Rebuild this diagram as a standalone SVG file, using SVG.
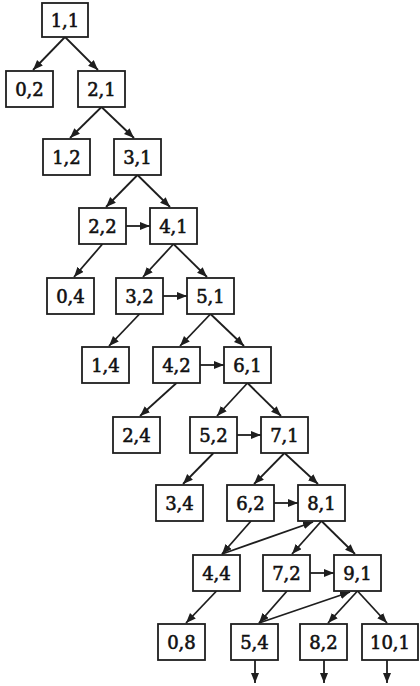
<svg xmlns="http://www.w3.org/2000/svg" width="420" height="686" viewBox="0 0 420 686">
<defs>
<marker id="ah" markerUnits="userSpaceOnUse" markerWidth="11" markerHeight="9" refX="10" refY="4" orient="auto">
<path d="M0,0 L10,4 L0,8 z" fill="#1e1e1e"/>
</marker>
<style>
.b rect{fill:#fff;stroke:#1e1e1e;stroke-width:1.8}
.b text{font-family:"DejaVu Serif","Liberation Serif",serif;font-size:18px;fill:#111;stroke:#111;stroke-width:0.6;text-anchor:middle}
#edges line{stroke:#1e1e1e;stroke-width:1.8;marker-end:url(#ah)}
</style>
</defs>
<rect width="420" height="686" fill="#fff"/>
<g id="edges">
<line x1="65" y1="37" x2="33" y2="70"/>
<line x1="65" y1="37" x2="98" y2="70"/>
<line x1="101.5" y1="107" x2="70" y2="138"/>
<line x1="101.5" y1="107" x2="134" y2="138"/>
<line x1="137.5" y1="175" x2="106" y2="207"/>
<line x1="137.5" y1="175" x2="170" y2="207"/>
<line x1="102.5" y1="244" x2="74" y2="277"/>
<line x1="126" y1="226" x2="150" y2="226"/>
<line x1="173.5" y1="244" x2="143" y2="277"/>
<line x1="173.5" y1="244" x2="207" y2="277"/>
<line x1="139.5" y1="314" x2="109" y2="346"/>
<line x1="163" y1="296" x2="187" y2="296"/>
<line x1="210.5" y1="314" x2="180" y2="346"/>
<line x1="210.5" y1="314" x2="244" y2="346"/>
<line x1="176.5" y1="383" x2="140" y2="416"/>
<line x1="200" y1="365" x2="224" y2="365"/>
<line x1="247.5" y1="383" x2="217" y2="416"/>
<line x1="247.5" y1="383" x2="281" y2="416"/>
<line x1="213.5" y1="453" x2="183" y2="484"/>
<line x1="237" y1="435" x2="261" y2="435"/>
<line x1="284.5" y1="453" x2="254" y2="484"/>
<line x1="284.5" y1="453" x2="318" y2="484"/>
<line x1="274" y1="503" x2="298" y2="503"/>
<line x1="251" y1="521" x2="222" y2="554"/>
<line x1="222" y1="554" x2="313" y2="522"/>
<line x1="321.5" y1="521" x2="292" y2="554"/>
<line x1="321.5" y1="521" x2="355" y2="554"/>
<line x1="310" y1="573" x2="334" y2="573"/>
<line x1="287" y1="591" x2="259" y2="623"/>
<line x1="259" y1="623" x2="350" y2="592"/>
<line x1="357.5" y1="591" x2="328" y2="623"/>
<line x1="357.5" y1="591" x2="387" y2="623"/>
<line x1="216.5" y1="591" x2="186" y2="623"/>
<line x1="255" y1="660" x2="255" y2="683"/>
<line x1="324" y1="660" x2="324" y2="683"/>
<line x1="387" y1="660" x2="387" y2="683"/>
</g>
<g id="n1_1" class="b"><rect x="42" y="3" width="46" height="34"/><text x="65" y="26.5">1,1</text></g>
<g id="n0_2" class="b"><rect x="6" y="71" width="47" height="36"/><text x="29.5" y="95.5">0,2</text></g>
<g id="n2_1" class="b"><rect x="78" y="71" width="47" height="36"/><text x="101.5" y="95.5">2,1</text></g>
<g id="n1_2" class="b"><rect x="43" y="139" width="47" height="36"/><text x="66.5" y="163.5">1,2</text></g>
<g id="n3_1" class="b"><rect x="114" y="139" width="47" height="36"/><text x="137.5" y="163.5">3,1</text></g>
<g id="n2_2" class="b"><rect x="79" y="208" width="47" height="36"/><text x="102.5" y="232.5">2,2</text></g>
<g id="n4_1" class="b"><rect x="150" y="208" width="47" height="36"/><text x="173.5" y="232.5">4,1</text></g>
<g id="n0_4" class="b"><rect x="47" y="278" width="47" height="36"/><text x="70.5" y="302.5">0,4</text></g>
<g id="n3_2" class="b"><rect x="116" y="278" width="47" height="36"/><text x="139.5" y="302.5">3,2</text></g>
<g id="n5_1" class="b"><rect x="187" y="278" width="47" height="36"/><text x="210.5" y="302.5">5,1</text></g>
<g id="n1_4" class="b"><rect x="82" y="347" width="47" height="36"/><text x="105.5" y="371.5">1,4</text></g>
<g id="n4_2" class="b"><rect x="153" y="347" width="47" height="36"/><text x="176.5" y="371.5">4,2</text></g>
<g id="n6_1" class="b"><rect x="224" y="347" width="47" height="36"/><text x="247.5" y="371.5">6,1</text></g>
<g id="n2_4" class="b"><rect x="113" y="417" width="47" height="36"/><text x="136.5" y="441.5">2,4</text></g>
<g id="n5_2" class="b"><rect x="190" y="417" width="47" height="36"/><text x="213.5" y="441.5">5,2</text></g>
<g id="n7_1" class="b"><rect x="261" y="417" width="47" height="36"/><text x="284.5" y="441.5">7,1</text></g>
<g id="n3_4" class="b"><rect x="156" y="485" width="47" height="36"/><text x="179.5" y="509.5">3,4</text></g>
<g id="n6_2" class="b"><rect x="227" y="485" width="47" height="36"/><text x="250.5" y="509.5">6,2</text></g>
<g id="n8_1" class="b"><rect x="298" y="485" width="47" height="36"/><text x="321.5" y="509.5">8,1</text></g>
<g id="n4_4" class="b"><rect x="193" y="555" width="47" height="36"/><text x="216.5" y="579.5">4,4</text></g>
<g id="n7_2" class="b"><rect x="263" y="555" width="47" height="36"/><text x="286.5" y="579.5">7,2</text></g>
<g id="n9_1" class="b"><rect x="334" y="555" width="47" height="36"/><text x="357.5" y="579.5">9,1</text></g>
<g id="n0_8" class="b"><rect x="158" y="624" width="47" height="36"/><text x="181.5" y="648.5">0,8</text></g>
<g id="n5_4" class="b"><rect x="231" y="624" width="47" height="36"/><text x="254.5" y="648.5">5,4</text></g>
<g id="n8_2" class="b"><rect x="300" y="624" width="47" height="36"/><text x="323.5" y="648.5">8,2</text></g>
<g id="n10_1" class="b"><rect x="362" y="624" width="56" height="36"/><text x="390" y="648.5">10,1</text></g>
</svg>
